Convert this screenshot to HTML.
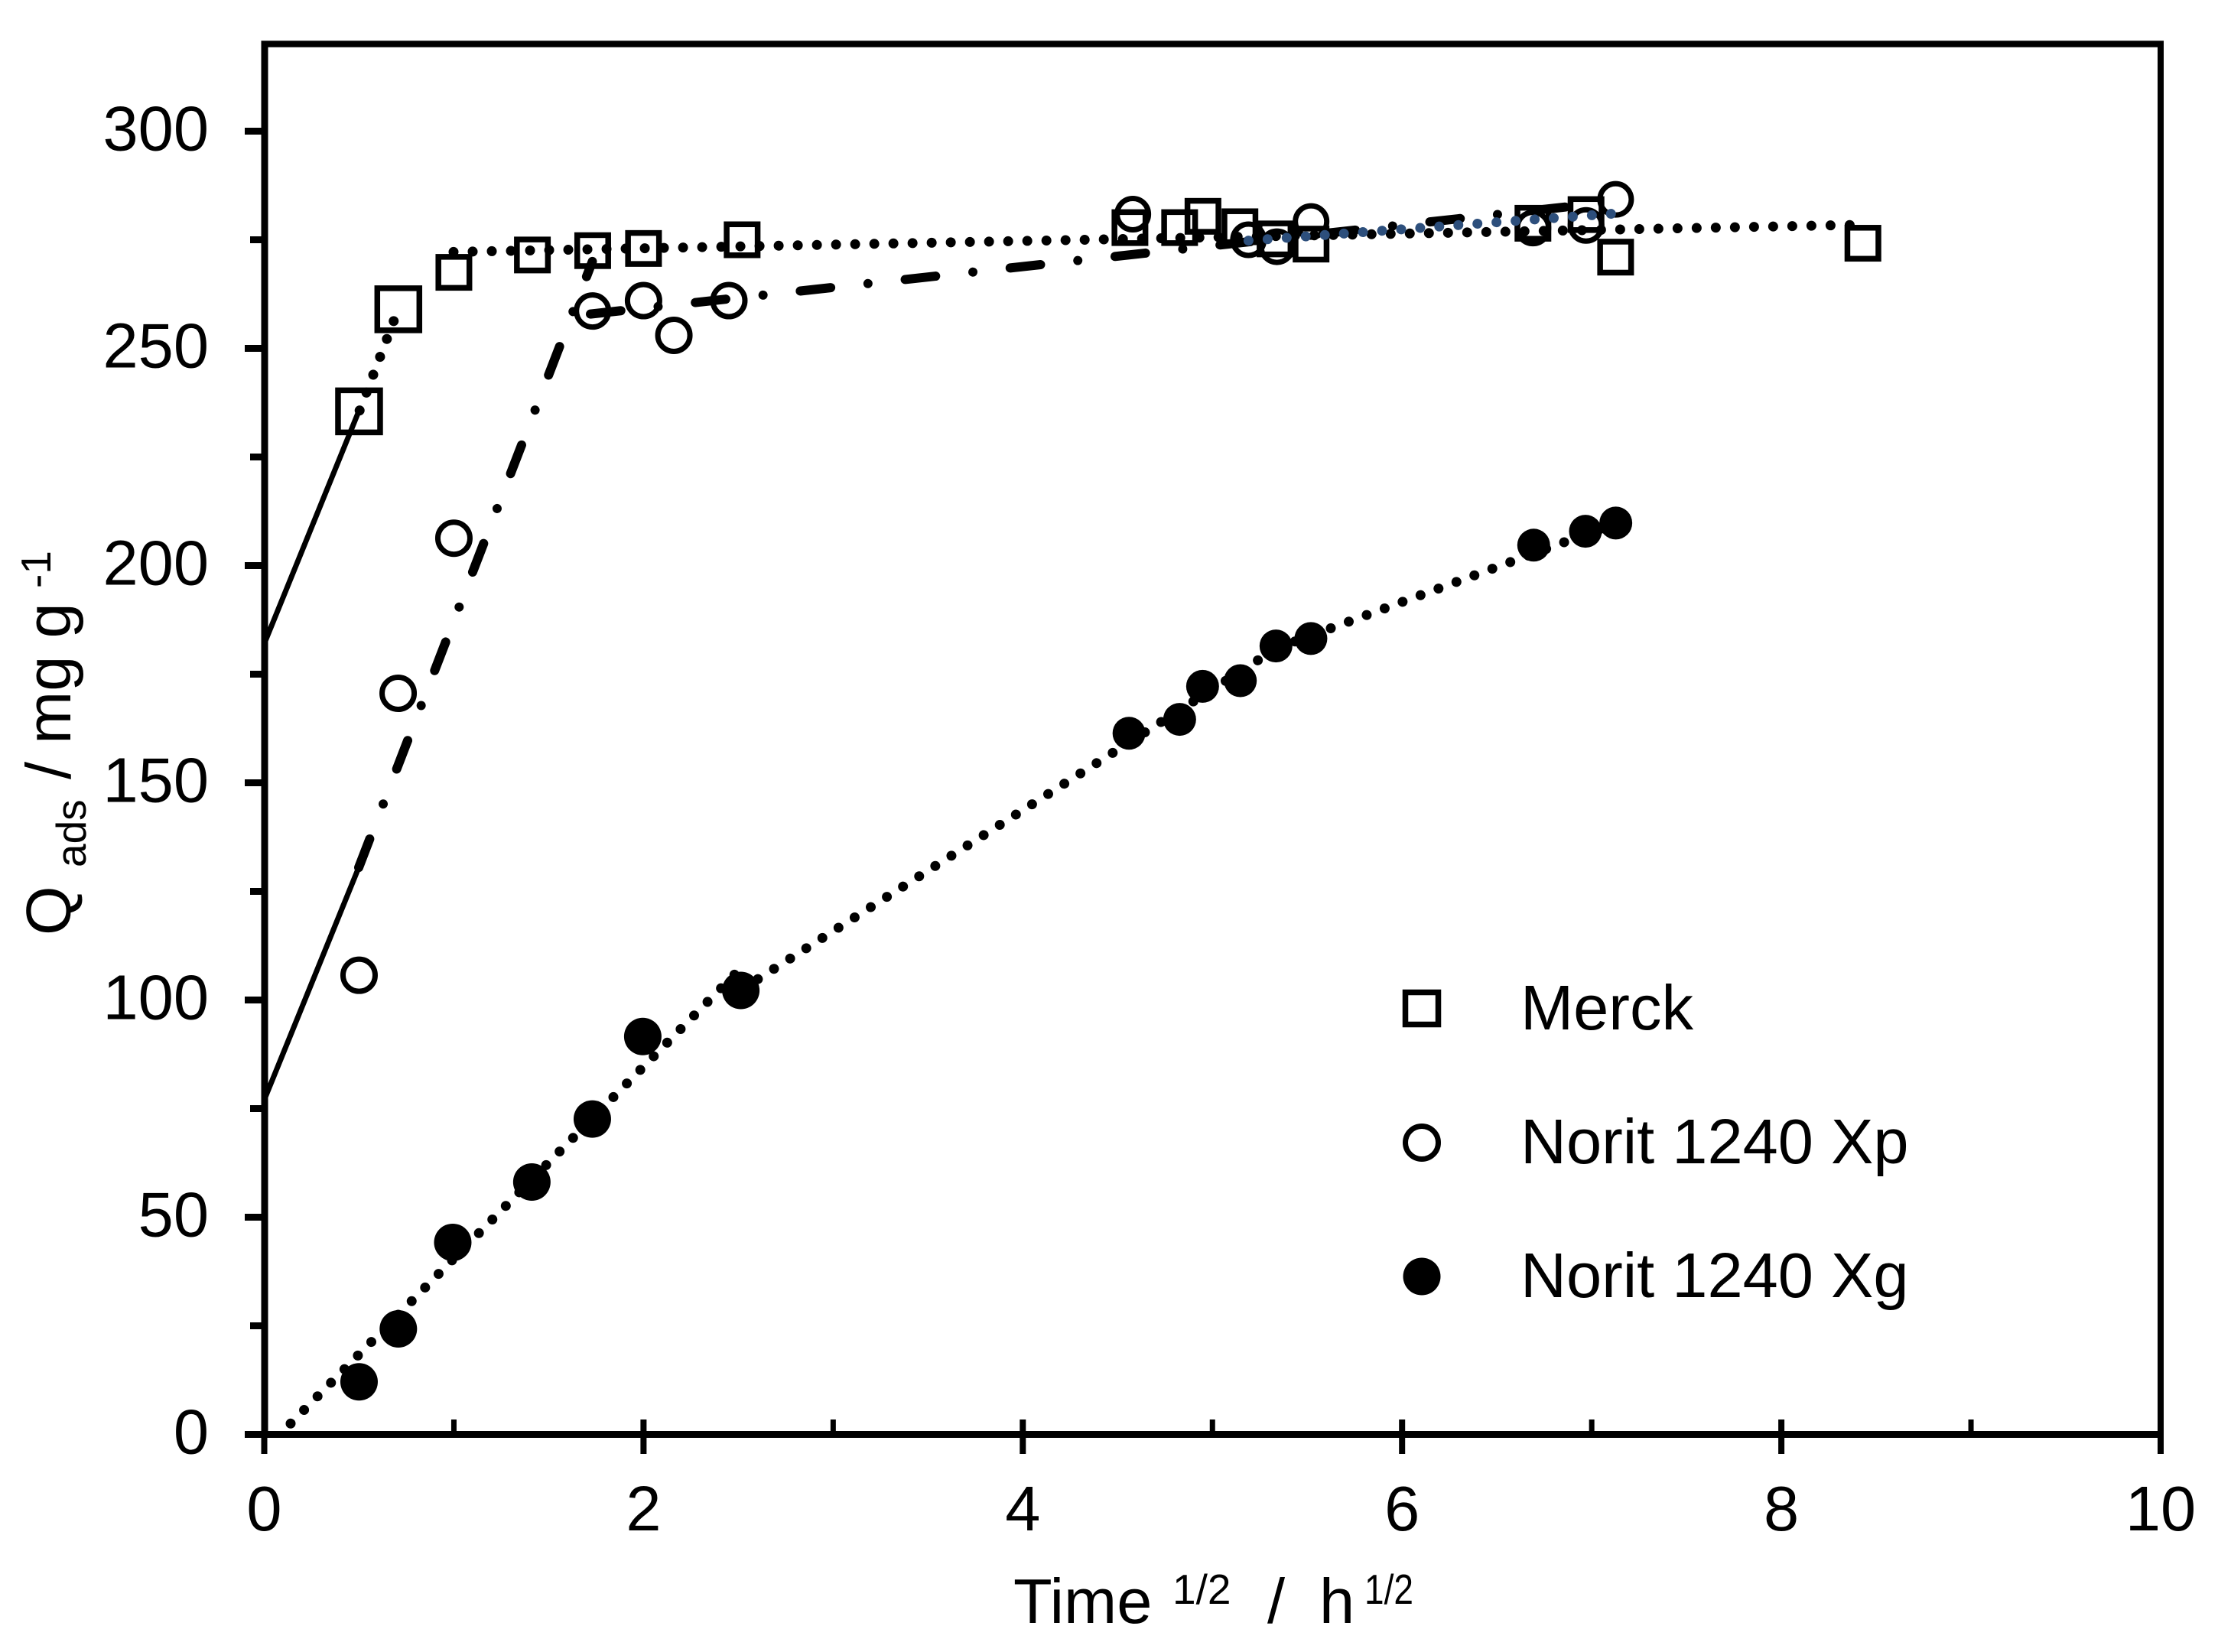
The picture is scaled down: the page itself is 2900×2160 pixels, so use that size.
<!DOCTYPE html>
<html>
<head>
<meta charset="utf-8">
<title>Adsorption kinetics chart</title>
<style>
html,body{margin:0;padding:0;background:#fff;}
svg{display:block;}
text{font-family:"Liberation Sans",sans-serif;fill:#000;}
.main{font-size:83px;}
.small{font-size:55px;}
.tick{stroke:#000;fill:none;}
.dotted{fill:none;stroke:#000;stroke-width:13;stroke-linecap:round;stroke-dasharray:0.01 25;}
.dotted-blue{fill:none;stroke:#2d4f7c;stroke-width:13;stroke-linecap:round;stroke-dasharray:0.01 25;}
.dashdot{fill:none;stroke:#000;stroke-width:12;stroke-linecap:round;stroke-dasharray:40 49 0.01 49;}
.solid{fill:none;stroke:#000;stroke-width:7;}
.sq{fill:none;stroke:#000;stroke-width:7.5;}
.ci{fill:none;stroke:#000;stroke-width:7;}
.fi{fill:#000;stroke:none;}
</style>
</head>
<body>
<svg id="chart" width="2900" height="2160" viewBox="0 0 2900 2160" xmlns="http://www.w3.org/2000/svg">
  <rect x="0" y="0" width="2900" height="2160" fill="#fff"/>
  <g id="marks"></g>
  <g id="axes"></g>

  <g>
    <text class="main" transform="translate(92,1223) rotate(-90)">Q</text>
    <text class="small" transform="translate(112,1134) rotate(-90)">ads</text>
    <text class="main" xml:space="preserve" transform="translate(92,1019) rotate(-90)">/ mg g</text>
    <text class="small" transform="translate(66,769) rotate(-90)">-1</text>
  </g>

  <g>
    <text class="main" x="1325" y="2122">Time</text>
    <text class="small" x="1533" y="2097">1/2</text>
    <text class="main" x="1657" y="2122">/</text>
    <text class="main" x="1725" y="2122">h</text>
    <text class="small" x="1784" y="2097" textLength="64" lengthAdjust="spacingAndGlyphs">1/2</text>
  </g>

  <g>
    <g>
      <rect class="sq" x="1837.5" y="1297.5" width="43" height="42"/>
      <text class="main" x="1988" y="1346">Merck</text>
    </g>
    <g>
      <circle class="ci" cx="1859" cy="1494" r="21.5"/>
      <text class="main" x="1988" y="1521">Norit 1240 Xp</text>
    </g>
    <g>
      <circle class="fi" cx="1859" cy="1669" r="24.5"/>
      <text class="main" x="1988" y="1696">Norit 1240 Xg</text>
    </g>
  </g>
</svg>

<script>
// ---- Axis ticks ----
const xMajorTicks = [0, 2, 4, 6, 8, 10];
const xMinorTicks = [1, 3, 5, 7, 9];
const yMajorTicks = [0, 50, 100, 150, 200, 250, 300];
const yMinorTicks = [25, 75, 125, 175, 225, 275];

// ---- Measured series ----
const merckX = [0.5, 0.707, 1.0, 1.414, 1.732, 2.0, 2.52, 4.565, 4.827, 4.95, 5.145, 5.33, 5.52, 6.69, 6.97, 7.126, 8.43];
const merckY = [235.5, 259, 267.5, 271.5, 272.5, 273, 275, 277.8, 277.8, 280.4, 278, 275.2, 274, 278.8, 280.8, 271, 274.2];

const xpX = [0.5, 0.706, 1.0, 1.731, 2.0, 2.16, 2.45, 4.58, 5.19, 5.34, 5.52, 6.69, 6.97, 7.126];
const xpY = [105.7, 170.6, 206.3, 258.6, 261, 253, 261, 280.9, 275, 273.4, 279.2, 277.7, 278.3, 284.3];

const xgX = [0.5, 0.707, 0.994, 1.411, 1.73, 1.996, 2.513, 4.56, 4.827, 4.948, 5.147, 5.335, 5.519, 6.694, 6.967, 7.127];
const xgY = [12.1, 24.3, 44.2, 58.1, 72.6, 91.6, 102.2, 161.4, 164.6, 172.2, 173.5, 181.5, 183.2, 204.7, 207.9, 209.8];

// ---- Trend lines ----
const merckSolidX = [0, 0.5];
const merckSolidY = [182, 235.7];
const merckRiseX = [0.503, 0.683];
const merckRiseY = [235.7, 256.3];
const merckPlateauX = [0.998, 8.36];
const merckPlateauY = [272.2, 278.4];

const xpSolidX = [0, 0.498];
const xpSolidY = [77, 130.5];
const xpRiseX = [0.498, 1.73];
const xpRiseY = [130.5, 270];
const xpPlateauX = [1.72, 7.0];
const xpPlateauY = [257.9, 283.2];
const xpBlueX = [5.19, 7.11];
const xpBlueY = [274.8, 281];

const xgFirstX = [0.139, 2.483];
const xgFirstY = [2.5, 106];
const xgSecondX = [2.603, 5.34];
const xgSecondY = [104.8, 181];
const xgThirdX = [5.34, 7.13];
const xgThirdY = [181, 209.8];

// ---- Axis functions ----
function sx(v) { return 345.5 + v * 247.95; }
function sy(v) { return 1875.5 - v * 5.68; }

const NS = 'http://www.w3.org/2000/svg';
const marks = document.getElementById('marks');
const axes = document.getElementById('axes');

function addLine(parent, x1, y1, x2, y2, w) {
  const l = document.createElementNS(NS, 'line');
  l.setAttribute('x1', x1);
  l.setAttribute('y1', y1);
  l.setAttribute('x2', x2);
  l.setAttribute('y2', y2);
  l.setAttribute('stroke', '#000');
  l.setAttribute('stroke-width', w);
  parent.appendChild(l);
  return l;
}

function addLabel(parent, str, x, y, anchor) {
  const t = document.createElementNS(NS, 'text');
  t.setAttribute('class', 'main');
  t.setAttribute('x', x);
  t.setAttribute('y', y);
  t.setAttribute('text-anchor', anchor);
  t.textContent = str;
  parent.appendChild(t);
  return t;
}

function addTrend(xs, ys, cls, name) {
  const p = document.createElementNS(NS, 'path');
  const d = xs.map(function (v, i) { return (i ? 'L' : 'M') + sx(v).toFixed(1) + ' ' + sy(ys[i]).toFixed(1); }).join(' ');
  p.setAttribute('d', d);
  p.setAttribute('class', cls);
  
  
  marks.appendChild(p);
}

// ---- Trend lines ----
addTrend(merckSolidX, merckSolidY, 'solid', 'merck-fit-solid');
addTrend(merckRiseX, merckRiseY, 'dotted', 'merck-fit-rise');
addTrend(merckPlateauX, merckPlateauY, 'dotted', 'merck-fit-plateau');
addTrend(xpSolidX, xpSolidY, 'solid', 'norit-xp-fit-solid');
addTrend(xpRiseX, xpRiseY, 'dashdot', 'norit-xp-fit-rise');
addTrend(xpPlateauX, xpPlateauY, 'dashdot', 'norit-xp-fit-plateau');
addTrend(xgFirstX, xgFirstY, 'dotted', 'norit-xg-fit-first');
addTrend(xgSecondX, xgSecondY, 'dotted', 'norit-xg-fit-second');
addTrend(xgThirdX, xgThirdY, 'dotted', 'norit-xg-fit-third');

// ---- Markers ----
merckX.forEach(function (v, i) {
  const size = i < 2 ? 55 : 40.5;
  const r = document.createElementNS(NS, 'rect');
  r.setAttribute('class', 'sq');
  r.setAttribute('x', sx(v) - size / 2);
  r.setAttribute('y', sy(merckY[i]) - size / 2);
  r.setAttribute('width', size);
  r.setAttribute('height', size);
  
  
  marks.appendChild(r);
});

xpX.forEach(function (v, i) {
  const c = document.createElementNS(NS, 'circle');
  c.setAttribute('class', 'ci');
  c.setAttribute('cx', sx(v));
  c.setAttribute('cy', sy(xpY[i]));
  c.setAttribute('r', i < 7 ? 21 : 20.5);
  
  
  marks.appendChild(c);
});

xgX.forEach(function (v, i) {
  const c = document.createElementNS(NS, 'circle');
  c.setAttribute('class', 'fi');
  c.setAttribute('cx', sx(v));
  c.setAttribute('cy', sy(xgY[i]));
  c.setAttribute('r', i < 7 ? 24.5 : 21.5);
  
  
  marks.appendChild(c);
});

addTrend(xpBlueX, xpBlueY, 'dotted-blue', 'norit-xp-fit-blue');

// ---- Axes ----
const leftAxis = addLine(axes, 346, 53.5, 346, 1880, 9);



const bottomAxis = addLine(axes, 320, 1875.5, 2829, 1875.5, 9);



const topAxis = addLine(axes, 341.5, 57.5, 2829, 57.5, 8.5);



const rightAxis = addLine(axes, 2825, 53.5, 2825, 1875.5, 8);



xMajorTicks.forEach(function (v) {
  const t = addLine(axes, sx(v), 1856, sx(v), 1901, 8);
  
  
  const l = addLabel(axes, String(v), sx(v), 2001, 'middle');
  
  
});

xMinorTicks.forEach(function (v) {
  const t = addLine(axes, sx(v), 1856, sx(v), 1875, 7);
  
  
});

yMajorTicks.forEach(function (v) {
  const t = addLine(axes, 320, sy(v), 346, sy(v), 9);
  
  
  const l = addLabel(axes, String(v), 273, sy(v) + 25, 'end');
  
  
});

yMinorTicks.forEach(function (v) {
  const t = addLine(axes, 327, sy(v), 346, sy(v), 9);
  
  
});
</script>
</body>
</html>
